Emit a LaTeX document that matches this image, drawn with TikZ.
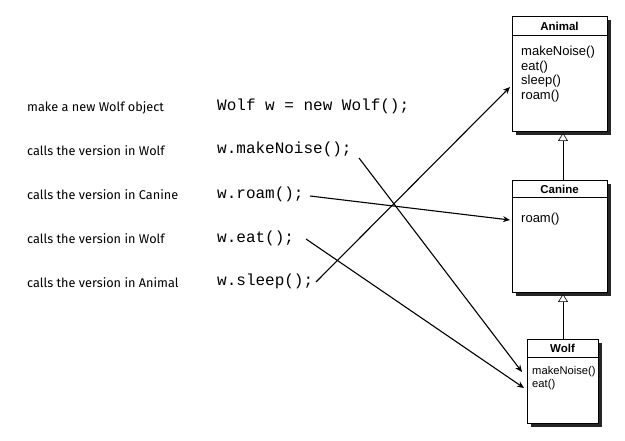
\documentclass[tikz,border=0pt]{standalone}
\usepackage{fontspec}
\setmainfont{Liberation Sans}
\newfontfamily\codefont{Liberation Mono}
\newfontfamily\handfont{Fira Sans}
\usetikzlibrary{arrows.meta}
\begin{document}
\begin{tikzpicture}[x=1pt,y=-1pt,
  lbl/.style={anchor=base west,inner sep=0pt,font=\handfont\fontsize{12.7}{14}\selectfont},
  code/.style={anchor=base west,inner sep=0pt,font=\codefont\fontsize{16}{18}\selectfont},
  meth/.style={anchor=north west,inner sep=0pt,align=left,font=\fontsize{13}{14.5}\selectfont},
  smeth/.style={anchor=north west,inner sep=0pt,align=left,font=\fontsize{11.2}{13}\selectfont},
  hdr/.style={inner sep=0pt,font=\bfseries\fontsize{11.5}{13}\selectfont},
  call/.style={line width=1.1pt,-{Stealth[length=7pt,width=6pt]}},
  inh/.style={line width=0.6pt,-{Triangle[open,length=8pt,width=10pt,fill=white]}}]
\useasboundingbox (0,0) rectangle (625,441);
% shadows
\fill[black!85] (516,20) rectangle (611,135);
\fill[black!85] (516,184) rectangle (611,296);
\fill[black!85] (531,343) rectangle (602,427);
% boxes
\draw[fill=white,line width=0.6pt] (512,16) rectangle (607,131);
\draw[line width=0.6pt] (512,35) -- (607,35);
\draw[fill=white,line width=0.6pt] (512,180) rectangle (607,292);
\draw[line width=0.6pt] (512,197) -- (607,197);
\draw[fill=white,line width=0.6pt] (527,339) rectangle (598,423);
\draw[line width=0.6pt] (527,357) -- (598,357);
\node[hdr] (animalh) at (559.5,26) {Animal};
\node[hdr] (canineh) at (559.5,189) {Canine};
\node[hdr] (wolfh) at (562.5,348) {Wolf};
\node[meth] (animalm) at (521,46) {makeNoise()\\eat()\\sleep()\\roam()};
\node[meth] (caninem) at (521,213) {roam()};
\node[smeth] (wolfm) at (532,366) {makeNoise()\\eat()};
% inheritance
\coordinate (caninetop) at (563,180);
\coordinate (animalbot) at (563,133);
\coordinate (wolftop) at (563,339);
\coordinate (caninebot) at (563,294);
\draw[inh] (caninetop) -- (animalbot);
\draw[inh] (wolftop) -- (caninebot);
% labels
\node[lbl] (l1) at (27,112) {make a new Wolf object};
\node[lbl] (l2) at (27,156) {calls the version in Wolf};
\node[lbl] (l3) at (27,200) {calls the version in Canine};
\node[lbl] (l4) at (27,244) {calls the version in Wolf};
\node[lbl] (l5) at (27,288) {calls the version in Animal};
\node[code] (c1) at (217,111) {Wolf w = new Wolf();};
\node[code] (c2) at (217,154) {w.makeNoise();};
\node[code] (c3) at (217,199) {w.roam();};
\node[code] (c4) at (217,243) {w.eat();};
\node[code] (c5) at (217,286) {w.sleep();};
% calls
\coordinate (s2) at (359,158);
\coordinate (s3) at (310,196);
\coordinate (s4) at (306,239);
\coordinate (s5) at (316,282);
\coordinate (t2) at (522,372);
\coordinate (t3) at (510,220);
\coordinate (t4) at (524,388);
\coordinate (t5) at (510,87);
\draw[call] (s2) -- (t2);
\draw[call] (s3) -- (t3);
\draw[call] (s4) -- (t4);
\draw[call] (s5) -- (t5);
\end{tikzpicture}
\end{document}
